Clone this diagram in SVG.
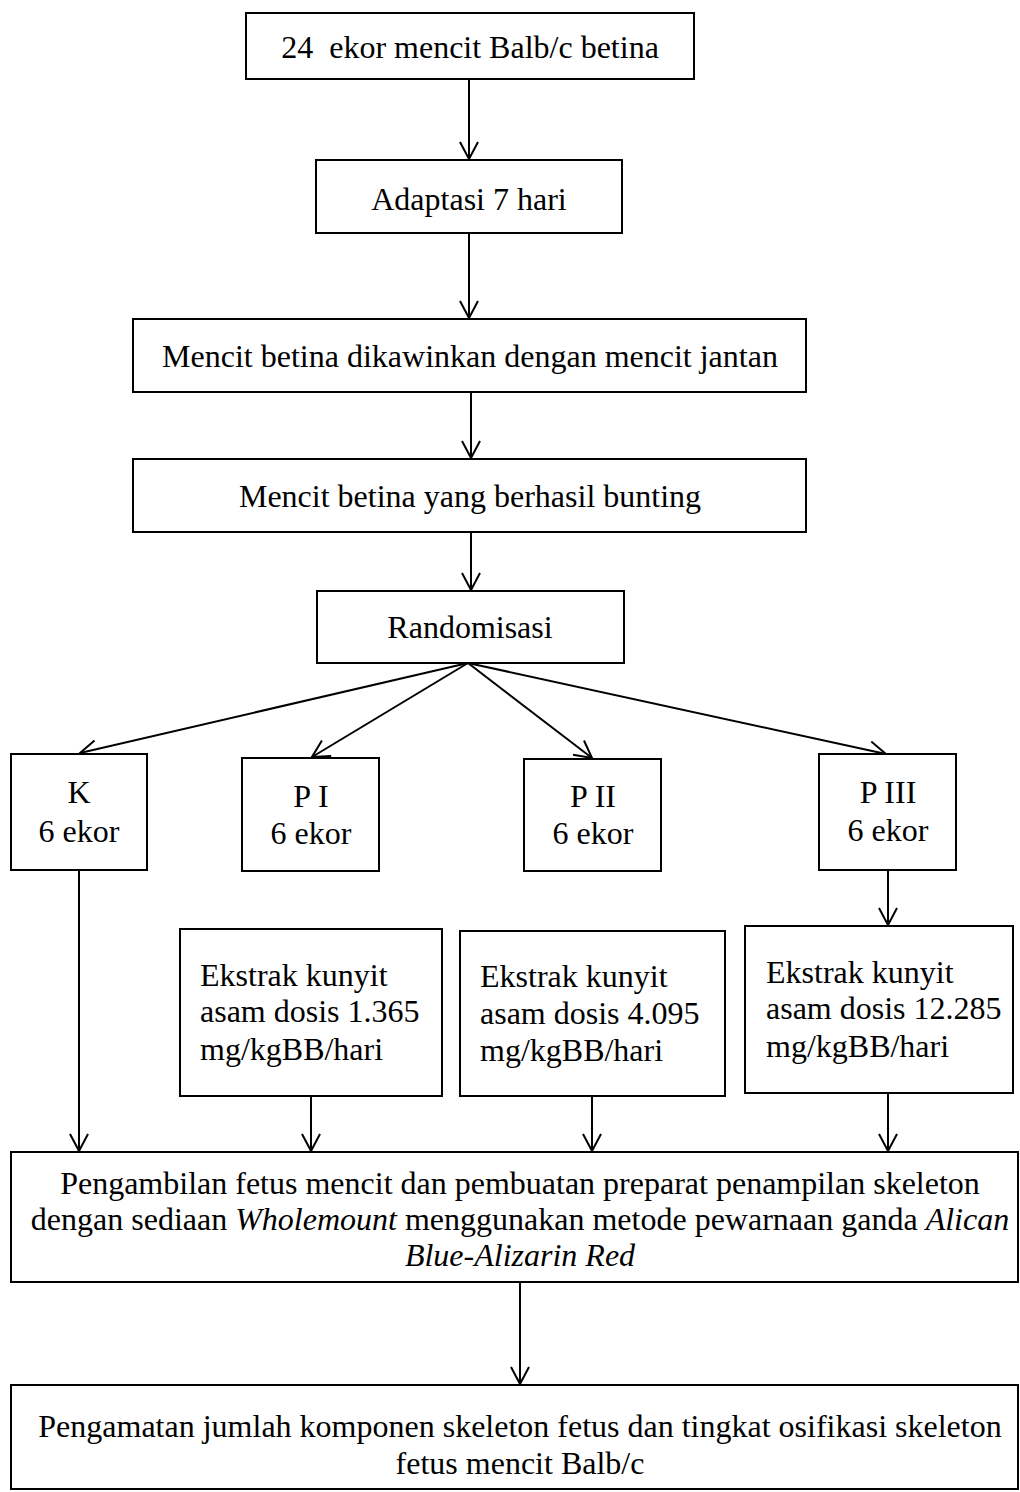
<svg xmlns="http://www.w3.org/2000/svg" width="1020" height="1492" viewBox="0 0 1020 1492">
<style>
  .box { fill: #ffffff; stroke: #000000; stroke-width: 2; }
  .t { font-family: "Liberation Serif", "Times New Roman", serif; font-size: 32px; fill: #000000; }
  .c { text-anchor: middle; }
  .i { font-style: italic; }
  .ln { fill: none; stroke: #000000; stroke-width: 2; }
</style>
<defs>
  <marker id="arr" viewBox="0 0 20 20" refX="18" refY="10" markerWidth="20" markerHeight="20" markerUnits="userSpaceOnUse" orient="auto">
    <path d="M1,1 L18,10 L1,19" fill="none" stroke="#000000" stroke-width="2"/>
  </marker>
</defs>
<rect width="1020" height="1492" fill="#ffffff"/>

<g id="connectors">
  <line class="ln" x1="469" y1="79" x2="469" y2="159" marker-end="url(#arr)"/>
  <line class="ln" x1="469" y1="233" x2="469" y2="318" marker-end="url(#arr)"/>
  <line class="ln" x1="471" y1="392" x2="471" y2="458" marker-end="url(#arr)"/>
  <line class="ln" x1="471" y1="532" x2="471" y2="590" marker-end="url(#arr)"/>
  <line class="ln" x1="468" y1="663" x2="80" y2="753" marker-end="url(#arr)"/>
  <line class="ln" x1="468" y1="663" x2="312" y2="757" marker-end="url(#arr)"/>
  <line class="ln" x1="468" y1="663" x2="592" y2="758" marker-end="url(#arr)"/>
  <line class="ln" x1="468" y1="663" x2="886" y2="754" marker-end="url(#arr)"/>
  <line class="ln" x1="888" y1="870" x2="888" y2="925" marker-end="url(#arr)"/>
  <line class="ln" x1="79" y1="870" x2="79" y2="1151" marker-end="url(#arr)"/>
  <line class="ln" x1="311" y1="1096" x2="311" y2="1151" marker-end="url(#arr)"/>
  <line class="ln" x1="592" y1="1096" x2="592" y2="1151" marker-end="url(#arr)"/>
  <line class="ln" x1="888" y1="1093" x2="888" y2="1151" marker-end="url(#arr)"/>
  <line class="ln" x1="520" y1="1282" x2="520" y2="1384" marker-end="url(#arr)"/>
</g>

<g id="n1">
  <rect class="box" x="246" y="13" width="448" height="66"/>
  <text class="t c" x="470" y="58" xml:space="preserve">24  ekor mencit Balb/c betina</text>
</g>
<g id="n2">
  <rect class="box" x="316" y="160" width="306" height="73"/>
  <text class="t c" x="469" y="210">Adaptasi 7 hari</text>
</g>
<g id="n3">
  <rect class="box" x="133" y="319" width="673" height="73"/>
  <text class="t c" x="470" y="367">Mencit betina dikawinkan dengan mencit jantan</text>
</g>
<g id="n4">
  <rect class="box" x="133" y="459" width="673" height="73"/>
  <text class="t c" x="470" y="507">Mencit betina yang berhasil bunting</text>
</g>
<g id="n5">
  <rect class="box" x="317" y="591" width="307" height="72"/>
  <text class="t c" x="470" y="638">Randomisasi</text>
</g>
<g id="nK">
  <rect class="box" x="11" y="754" width="136" height="116"/>
  <text class="t c" x="79" y="803">K</text>
  <text class="t c" x="79" y="842">6 ekor</text>
</g>
<g id="nP1">
  <rect class="box" x="242" y="758" width="137" height="113"/>
  <text class="t c" x="311" y="807">P I</text>
  <text class="t c" x="311" y="844">6 ekor</text>
</g>
<g id="nP2">
  <rect class="box" x="524" y="759" width="137" height="112"/>
  <text class="t c" x="593" y="807">P II</text>
  <text class="t c" x="593" y="844">6 ekor</text>
</g>
<g id="nP3">
  <rect class="box" x="819" y="754" width="137" height="116"/>
  <text class="t c" x="888" y="803">P III</text>
  <text class="t c" x="888" y="841">6 ekor</text>
</g>
<g id="nE1">
  <rect class="box" x="180" y="929" width="262" height="167"/>
  <text class="t" x="200" y="986">Ekstrak kunyit</text>
  <text class="t" x="200" y="1022">asam dosis 1.365</text>
  <text class="t" x="200" y="1060">mg/kgBB/hari</text>
</g>
<g id="nE2">
  <rect class="box" x="460" y="931" width="265" height="165"/>
  <text class="t" x="480" y="987">Ekstrak kunyit</text>
  <text class="t" x="480" y="1024">asam dosis 4.095</text>
  <text class="t" x="480" y="1061">mg/kgBB/hari</text>
</g>
<g id="nE3">
  <rect class="box" x="745" y="926" width="268" height="167"/>
  <text class="t" x="766" y="983">Ekstrak kunyit</text>
  <text class="t" x="766" y="1019">asam dosis 12.285</text>
  <text class="t" x="766" y="1057">mg/kgBB/hari</text>
</g>
<g id="n6">
  <rect class="box" x="11" y="1152" width="1007" height="130"/>
  <text class="t c" x="520" y="1194">Pengambilan fetus mencit dan pembuatan preparat penampilan skeleton</text>
  <text class="t c" x="520" y="1230">dengan sediaan <tspan class="i">Wholemount</tspan> menggunakan metode pewarnaan ganda <tspan class="i">Alican</tspan></text>
  <text class="t c i" x="520" y="1266">Blue-Alizarin Red</text>
</g>
<g id="n7">
  <rect class="box" x="11" y="1385" width="1007" height="104"/>
  <text class="t c" x="520" y="1437">Pengamatan jumlah komponen skeleton fetus dan tingkat osifikasi skeleton</text>
  <text class="t c" x="520" y="1474">fetus mencit Balb/c</text>
</g>
</svg>
